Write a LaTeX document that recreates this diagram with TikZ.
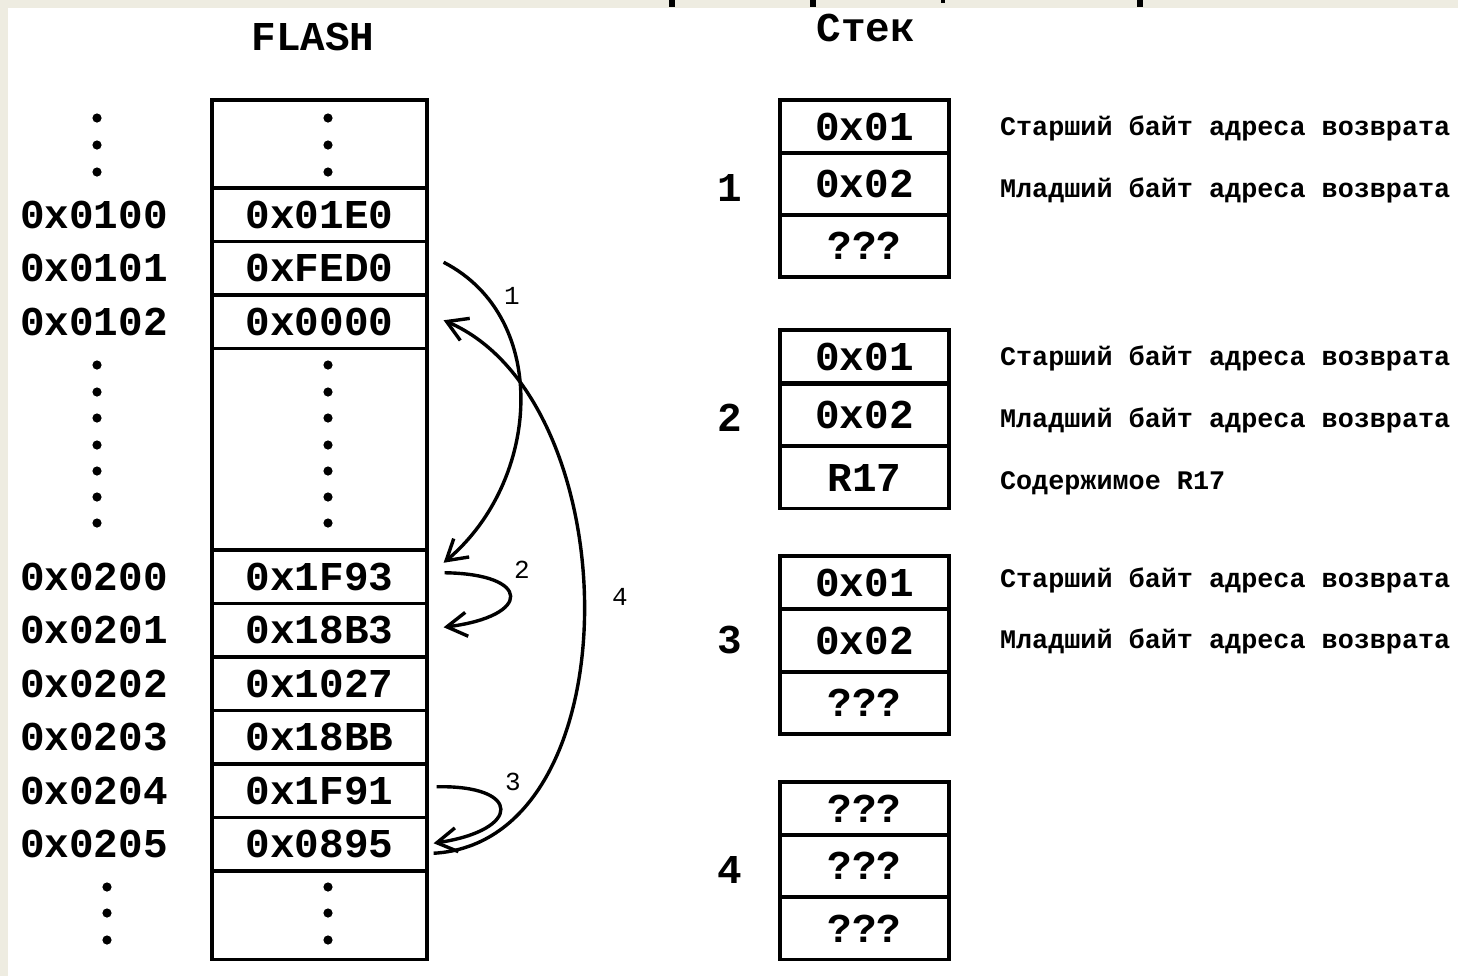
\documentclass[tikz,border=0pt]{standalone}
\usepackage{fontspec}
\setmonofont{Liberation Mono}
\usetikzlibrary{arrows.meta}
\definecolor{paper}{RGB}{238,236,225}
\newcommand\cellfont{\ttfamily\bfseries\fontsize{20.5}{24}\selectfont}
\newcommand\notefont{\ttfamily\bfseries\fontsize{13.4}{16}\selectfont}
\newcommand\markfont{\ttfamily\fontsize{13}{15}\selectfont}
\tikzset{
	flashcell/.style={draw, line width=1.6pt, inner sep=0pt, minimum width=107.5pt, minimum height=26.75pt, font=\cellfont},
	stackcell/.style={draw, line width=1.6pt, inner sep=0pt, minimum width=84.5pt, minimum height=31pt, font=\cellfont},
	addr/.style={font=\cellfont},
	note/.style={anchor=west, font=\notefont, text height=1.6ex, text depth=0.3ex},
	jump/.style={line width=1.7pt, -{Straight Barb[length=10pt,width=12pt,line width=1.7pt]}}
}

\begin{document}
\begin{tikzpicture}[x=0.5pt,y=-0.5pt]
	\useasboundingbox (0,0) rectangle (1458,976);
	\fill[paper] (0,0) rectangle (1458,976);
	\fill[white] (8,8) rectangle (1458,976);
	\fill (669,0) rectangle (675,7);
	\fill (810,0) rectangle (816,7);
	\fill (941,0) rectangle (945,3);
	\fill (1137,0) rectangle (1143,7);

	\node (flash) at (313,37)[font=\cellfont]{FLASH};
	\node (stek) at (866,28)[font=\cellfont]{Стек};

	\node (ctop) at (319.5,144)[flashcell, minimum height=44pt]{};
	\node (c01E0) at (319.5,214.75)[flashcell]{0x01E0};
	\node (cFED0) at (319.5,268.25)[flashcell]{0xFED0};
	\node (c0000) at (319.5,321.75)[flashcell]{0x0000};
	\node (cmid) at (319.5,449.25)[flashcell, minimum height=100.75pt]{};
	\node (c1F93) at (319.5,576.75)[flashcell]{0x1F93};
	\node (c18B3) at (319.5,630.25)[flashcell]{0x18B3};
	\node (c1027) at (319.5,683.75)[flashcell]{0x1027};
	\node (c18BB) at (319.5,737.25)[flashcell]{0x18BB};
	\node (c1F91) at (319.5,790.75)[flashcell]{0x1F91};
	\node (c0895) at (319.5,844.25)[flashcell]{0x0895};
	\node (cbot) at (319.5,915.25)[flashcell, minimum height=44.5pt]{};

	\node (a0100) at (94,214.75)[addr]{0x0100};
	\node (a0101) at (94,268.25)[addr]{0x0101};
	\node (a0102) at (94,321.75)[addr]{0x0102};
	\node (a0200) at (94,576.75)[addr]{0x0200};
	\node (a0201) at (94,630.25)[addr]{0x0201};
	\node (a0202) at (94,683.75)[addr]{0x0202};
	\node (a0203) at (94,737.25)[addr]{0x0203};
	\node (a0204) at (94,790.75)[addr]{0x0204};
	\node (a0205) at (94,844.25)[addr]{0x0205};

	\foreach \y in {118,145,172}{
		\fill (97,\y) circle(2.3pt);
		\fill (328,\y) circle(2.3pt);
	}
	\foreach \y in {365,392,418,445,471,497,523}{
		\fill (97,\y) circle(2.3pt);
		\fill (328,\y) circle(2.3pt);
	}
	\foreach \y in {887,913,940}{
		\fill (107,\y) circle(2.3pt);
		\fill (328,\y) circle(2.3pt);
	}

	\draw[jump] ([shift={(7.5pt,3pt)}]cFED0.east) .. controls (552,318) and (540,482) .. ([shift={(7.5pt,7pt)}]c1F93.east);
	\draw[jump] ([shift={(8pt,2pt)}]c1F93.east) .. controls (532,574) and (532,616) .. ([shift={(7.5pt,1.5pt)}]c18B3.east);
	\draw[jump] ([shift={(4pt,2pt)}]c1F91.east) .. controls (522,785) and (522,830) .. ([shift={(2.5pt,0.5pt)}]c0895.east);
	\draw[jump] ([shift={(2.5pt,-4.5pt)}]c0895.east) .. controls (635,842) and (630,400) .. ([shift={(7.5pt,0.75pt)}]c0000.east);
	\node (m1) at (512,296)[font=\markfont]{1};
	\node (m2) at (522,570)[font=\markfont]{2};
	\node (m3) at (513,782)[font=\markfont]{3};
	\node (m4) at (620,597)[font=\markfont]{4};

	\node (s1a) at (864.5,126.5)[stackcell, minimum height=26.5pt]{0x01};
	\node (s1b) at (864.5,184)[stackcell]{0x02};
	\node (s1c) at (864.5,246)[stackcell]{???};
	\node (n1) at (730,188)[font=\cellfont]{1};
	\node (d1a) at (993,130)[note]{Старший байт адреса возврата};
	\node (d1b) at (993,192)[note]{Младший байт адреса возврата};

	\node (s2a) at (864.5,356.5)[stackcell, minimum height=26.5pt]{0x01};
	\node (s2b) at (864.5,415)[stackcell]{0x02};
	\node (s2c) at (864.5,477.5)[stackcell]{R17};
	\node (n2) at (730,418)[font=\cellfont]{2};
	\node (d2a) at (993,360)[note]{Старший байт адреса возврата};
	\node (d2b) at (993,422)[note]{Младший байт адреса возврата};
	\node (d2c) at (993,484)[note]{Содержимое R17};

	\node (s3a) at (864.5,582.5)[stackcell, minimum height=26.5pt]{0x01};
	\node (s3b) at (864.5,640.5)[stackcell]{0x02};
	\node (s3c) at (864.5,703)[stackcell]{???};
	\node (n3) at (730,640)[font=\cellfont]{3};
	\node (d3a) at (993,582)[note]{Старший байт адреса возврата};
	\node (d3b) at (993,643)[note]{Младший байт адреса возврата};

	\node (s4a) at (864.5,808.5)[stackcell, minimum height=26.5pt]{???};
	\node (s4b) at (864.5,866)[stackcell]{???};
	\node (s4c) at (864.5,928.5)[stackcell]{???};
	\node (n4) at (730,870)[font=\cellfont]{4};
\end{tikzpicture}
\end{document}
